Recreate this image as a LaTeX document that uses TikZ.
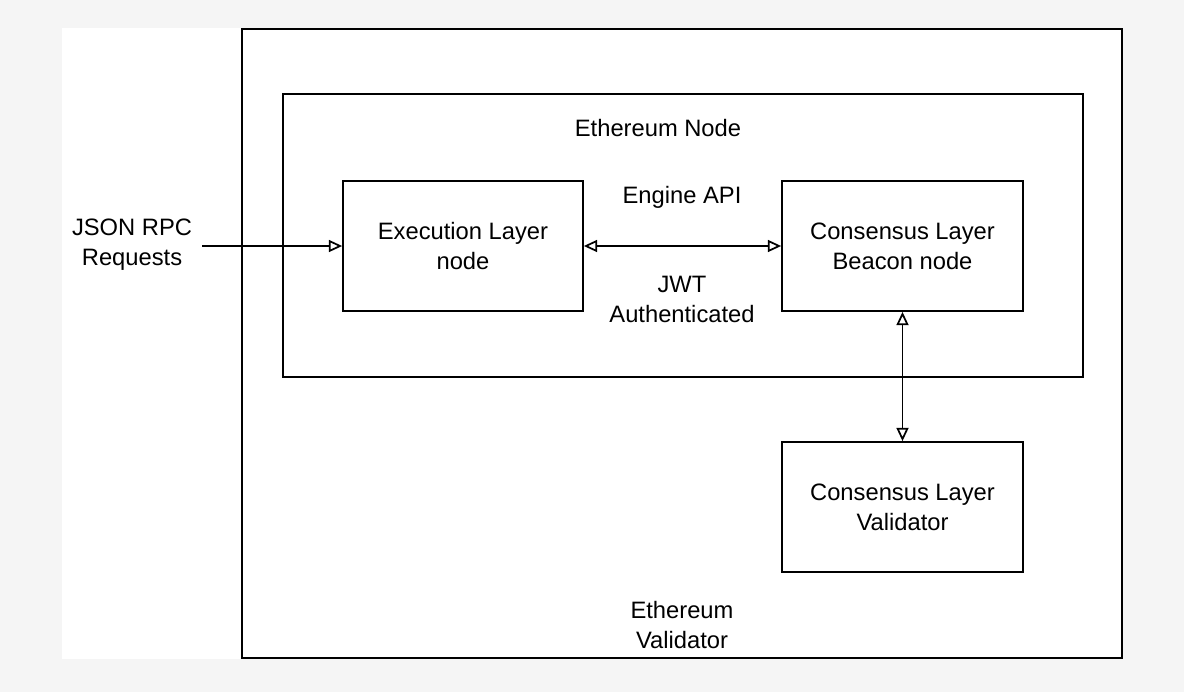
\documentclass[tikz,border=0pt]{standalone}
\usepackage{fontspec}
\setmainfont{Liberation Sans}
\usetikzlibrary{arrows.meta}

\tikzset{
    label text/.style={font=\fontsize{17.8}{22.5}\selectfont, align=center, inner sep=0pt},
    layer box/.style={draw, line width=1.3pt, fill=white, inner sep=0pt, label text},
    frame box/.style={draw, line width=1.3pt, inner sep=0pt},
    flow/.style={line width=1.3pt, -{Triangle[open, length=10pt, width=9pt]}},
    both flow/.style={line width=1.3pt, {Triangle[open, length=10pt, width=9pt]}-{Triangle[open, length=10pt, width=9pt]}}
}

\begin{document}
\begin{tikzpicture}[x=0.75pt, y=-0.75pt]
    % Page and white sheet
    \useasboundingbox (0,0) rectangle (1184,692);
    \fill[black!4] (0,0) rectangle (1184,692);
    \fill[white] (62,28) rectangle (1122,659);

    % Outer frame: Ethereum Validator
    \node[frame box, minimum width=660pt, minimum height=471.75pt] (validatorframe) at (682,343.5) {};
    \node[label text] (validatorlabel) at (682,625) {Ethereum\\Validator};

    % Inner frame: Ethereum Node
    \node[frame box, minimum width=600pt, minimum height=212.25pt] (nodeframe) at (683,235.5) {};
    \node[label text] (nodelabel) at (658,128) {Ethereum Node};

    % Layer boxes
    \node[layer box, minimum width=180pt, minimum height=97.5pt] (exec) at (463,246) {Execution Layer\\node};
    \node[layer box, minimum width=180.75pt, minimum height=97.5pt] (beacon) at (902.5,246) {Consensus Layer\\Beacon node};
    \node[layer box, minimum width=180.75pt, minimum height=97.5pt] (validator) at (902.5,507) {Consensus Layer\\Validator};

    % Requests coming in
    \node[label text] (rpc) at (132,245) {JSON RPC\\Requests};
    \coordinate (rpcstart) at (202,246);
    \draw[flow] (rpcstart) -- (exec.west);

    % Engine API link
    \draw[both flow] (exec.east) -- (beacon.west);
    \node[label text] (engine) at (682,197) {Engine API};
    \node[label text] (jwt) at (682,299) {JWT\\Authenticated};

    % Beacon node to validator
    \draw[both flow] (beacon.south) -- (validator.north);

\end{tikzpicture}
\end{document}
